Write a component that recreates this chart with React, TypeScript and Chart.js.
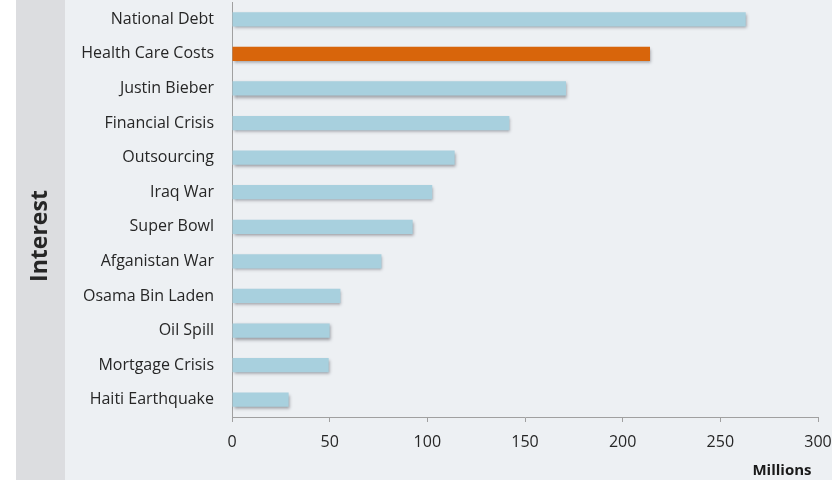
import React, { useEffect, useRef } from "react";
import { Chart, registerables } from "chart.js";

Chart.register(...registerables);

const categories = [
  "National Debt",
  "Health Care Costs",
  "Justin Bieber",
  "Financial Crisis",
  "Outsourcing",
  "Iraq War",
  "Super Bowl",
  "Afganistan War",
  "Osama Bin Laden",
  "Oil Spill",
  "Mortgage Crisis",
  "Haiti Earthquake",
];
const values = [263, 214, 171, 142, 114, 102.5, 92.5, 76.5, 55.5, 50, 49.5, 29];
const highlighted = "Health Care Costs";
const xMin = 0;
const xMax = 300;
const xStep = 50;
const yTitle = "Interest";
const xTitle = "Millions";

const FONT = "'Open Sans', 'DejaVu Sans', sans-serif";

export default function App() {
  const ref = useRef<HTMLCanvasElement>(null);

  useEffect(() => {
    const canvas = ref.current;
    if (!canvas) return;

    const background = {
      id: "background",
      beforeDraw(chart: any) {
        const { ctx, width, height } = chart;
        ctx.save();
        ctx.fillStyle = "#edf0f3";
        ctx.fillRect(0, 0, width, height);
        ctx.fillStyle = "#ffffff";
        ctx.fillRect(0, 0, 16, height);
        ctx.fillStyle = "#dcdde0";
        ctx.fillRect(16, 0, 49, height);
        ctx.restore();
      },
    };

    const shadow = {
      id: "barShadow",
      beforeDatasetsDraw(chart: any) {
        const ctx = chart.ctx;
        ctx.save();
        ctx.shadowColor = "rgba(70,70,80,0.5)";
        ctx.shadowBlur = 3;
        ctx.shadowOffsetX = 1;
        ctx.shadowOffsetY = 2;
      },
      afterDatasetsDraw(chart: any) {
        chart.ctx.restore();
      },
    };

    const titles = {
      id: "titles",
      afterDraw(chart: any) {
        const ctx = chart.ctx;
        ctx.save();
        ctx.fillStyle = "#262626";
        ctx.font = `bold 23px ${FONT}`;
        ctx.textAlign = "center";
        ctx.textBaseline = "middle";
        ctx.translate(40, 236);
        ctx.rotate(-Math.PI / 2);
        ctx.fillText(yTitle, 0, 0);
        ctx.restore();

        ctx.save();
        ctx.fillStyle = "#1a1a1a";
        ctx.font = `bold 15px ${FONT}`;
        ctx.textAlign = "center";
        ctx.textBaseline = "middle";
        ctx.fillText(xTitle, 782, 471);
        ctx.restore();
      },
    };

    const chart = new Chart(canvas, {
      type: "bar",
      data: {
        labels: categories,
        datasets: [
          {
            data: values,
            backgroundColor: categories.map((c) =>
              c === highlighted ? "#d8650b" : "#a8d0de"
            ),
            borderWidth: 0,
            barPercentage: 0.41,
            categoryPercentage: 1,
          },
        ],
      },
      options: {
        indexAxis: "y",
        responsive: false,
        animation: false,
        layout: { padding: { top: 2, right: 14, left: 0, bottom: 0 } },
        plugins: {
          legend: { display: false },
          tooltip: { enabled: false },
        },
        scales: {
          x: {
            min: xMin,
            max: xMax,
            afterFit: (s: any) => {
              s.height = 63;
              s.paddingLeft = 0;
              s.paddingRight = 0;
            },
            ticks: {
              stepSize: xStep,
              padding: 11,
              color: "#262626",
              font: { family: FONT, size: 16 },
              maxRotation: 0,
            },
            grid: {
              drawOnChartArea: false,
              drawTicks: true,
              tickLength: 5,
              color: "#a0a0a0",
            },
            border: { display: true, color: "#a0a0a0" },
          },
          y: {
            afterFit: (s: any) => {
              s.width = 232;
              s.paddingTop = 0;
              s.paddingBottom = 0;
            },
            ticks: {
              padding: 18,
              color: "#262626",
              font: { family: FONT, size: 16 },
            },
            grid: { drawOnChartArea: false, drawTicks: false },
            border: { display: true, color: "#a0a0a0" },
          },
        },
      },
      plugins: [background, shadow, titles],
    });

    return () => chart.destroy();
  }, []);

  return (
    <div style={{ position: "fixed", left: 0, top: 0, width: 832, height: 480 }}>
      <canvas ref={ref} width={832} height={480} style={{ width: 832, height: 480, display: "block" }} />
    </div>
  );
}
